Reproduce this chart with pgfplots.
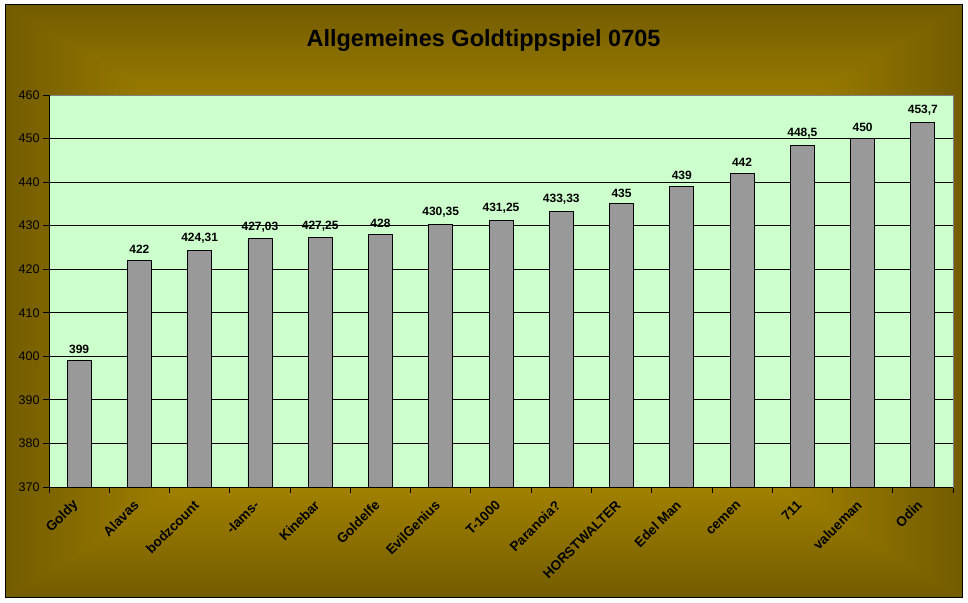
\documentclass[border=0pt]{standalone}
\usepackage{pgfplots}
\pgfplotsset{compat=1.18}
\usepackage{fontspec}
\setmainfont{Liberation Sans}
\definecolor{edgec}{RGB}{115,92,0}
\definecolor{midc}{RGB}{178,142,0}
\definecolor{ctrc}{RGB}{196,156,0}
\definecolor{plotbg}{RGB}{204,255,204}
\definecolor{barc}{RGB}{153,153,153}
\pgfkeys{/pgf/number format/.cd, use comma, 1000 sep={}, precision=2, assume math mode=true}
\begin{document}
\begin{tikzpicture}[x=1pt,y=1pt]
\fill[white] (0,0) rectangle (968,602);
\coordinate (C) at (483.5,301);
\shade[inner color=ctrc, outer color=edgec] (5,5) rectangle (962,597);
\shade[top color=edgec, bottom color=ctrc, middle color=midc] (5,597) -- (962,597) -- (C) -- cycle;
\shade[bottom color=edgec, top color=ctrc, middle color=midc] (5,5) -- (962,5) -- (C) -- cycle;
\shade[left color=edgec, right color=ctrc, middle color=midc] (5,5) -- (5,597) -- (C) -- cycle;
\shade[right color=edgec, left color=ctrc, middle color=midc] (962,5) -- (962,597) -- (C) -- cycle;
\draw[black, line width=1pt] (5,5) rectangle (962,597);
\node[font=\bfseries\fontsize{23.5}{23.5}\selectfont] at (483.5,562) {Allgemeines Goldtippspiel 0705};
\begin{axis}[
  scale only axis, width=904pt, height=392pt,
  at={(49pt,115pt)}, anchor=south west,
  xmin=-0.5, xmax=14.5, ymin=370, ymax=460,
  axis background/.style={fill=plotbg},
  axis line style={draw=gray, line width=0.8pt},
  ytick={370,380,...,460},
  ymajorgrids, grid style={black, line width=0.8pt},
  xtick={-0.5,0.5,...,14.5}, xticklabels={},
  extra x ticks={0,1,...,14},
  extra x tick labels={Goldy,Alavas,bodzcount,-Iams-,Kinebar,Goldelfe,EvilGenius,T-1000,Paranoia?,HORSTWALTER,Edel Man,cemen,711,valueman,Odin},
  extra x tick style={major tick length=0pt, xticklabel style={rotate=45, anchor=east, xshift=-10pt, yshift=-9pt, font=\bfseries\fontsize{13.5}{13.5}\selectfont}},
  xtick pos=bottom, ytick pos=left,
  tick align=outside, major tick length=6pt, tick style={black, line width=0.8pt},
  yticklabel style={font=\fontsize{12.5}{13}\selectfont},
  ybar, bar width=24pt,
  nodes near coords,
  every node near coord/.append style={font=\bfseries\fontsize{12}{12}\selectfont, black, yshift=3pt},
  after end axis/.code={\draw[black, line width=0.8pt] (rel axis cs:0,1) -- (rel axis cs:0,0) -- (rel axis cs:1,0);},
]
\addplot[fill=barc, draw=black, line width=0.8pt] coordinates {
  (0,399) (1,422) (2,424.31) (3,427.03) (4,427.25) (5,428) (6,430.35) (7,431.25)
  (8,433.33) (9,435) (10,439) (11,442) (12,448.5) (13,450) (14,453.7)
};
\end{axis}
\end{tikzpicture}
\end{document}
